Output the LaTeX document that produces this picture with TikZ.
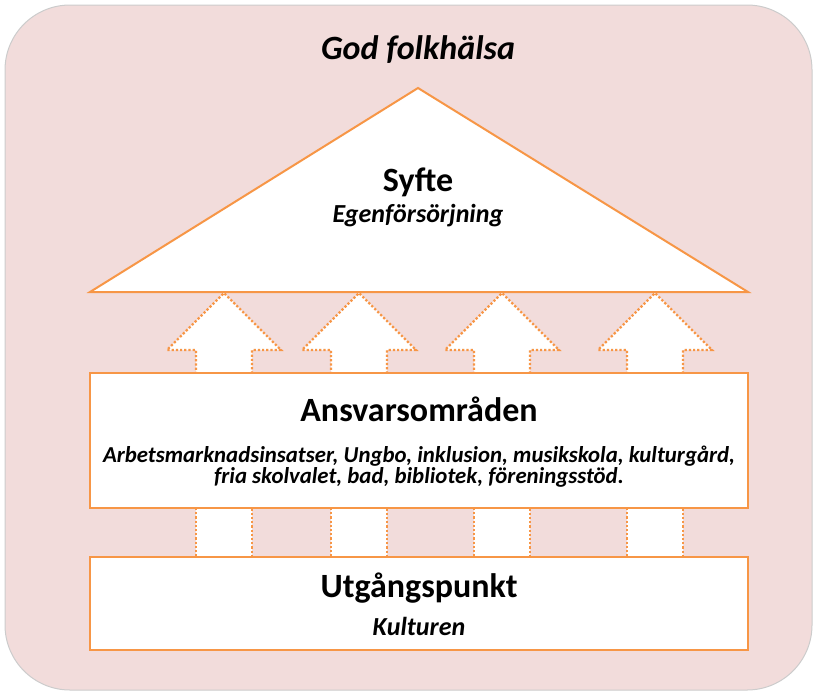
\documentclass[tikz,border=0pt]{standalone}
\usepackage{fontspec}
\setmainfont{Carlito}
\definecolor{bgpink}{RGB}{242,220,219}
\definecolor{org}{RGB}{247,150,70}
\begin{document}
\begin{tikzpicture}[x=1pt,y=-1pt,
  box/.style={draw=org,line width=2pt,fill=white},
  arr/.style={draw=org,line width=2.2pt,dotted,fill=white}]
\useasboundingbox (0,0) rectangle (818,696);
\draw[fill=bgpink,draw=gray!40,line width=1pt,rounded corners=65pt] (5,5) rectangle (812,690);
\node (title) at (418,50) {\fontsize{34}{38}\selectfont\bfseries\itshape God folkhälsa};
% upper arrows
\foreach \c/\n in {224/a1,359/a2,502/a3,655/a4}{
  \draw[arr] (\c-28,374) -- (\c-28,350) -- (\c-57,350) -- (\c,293) -- (\c+57,350) -- (\c+28,350) -- (\c+28,374);
  \draw[arr] (\c-28,508) rectangle (\c+28,557);
}
\draw[box] (90,292) -- (418,88) -- (748,292) -- cycle;
\node (syfte) at (418,182) {\fontsize{34}{38}\selectfont\bfseries Syfte};
\node (egen) at (418,216) {\fontsize{26}{30}\selectfont\bfseries\itshape Egenförsörjning};
\draw[box] (90,373) rectangle (748,508);
\node (ansv) at (419,409) {\fontsize{34}{38}\selectfont\bfseries Ansvarsområden};
\node[align=center] (list) at (419,467) {\fontsize{22.8}{28}\selectfont\bfseries\itshape Arbetsmarknadsinsatser, Ungbo, inklusion, musikskola, kulturgård,\\ \fontsize{22.8}{28}\selectfont\bfseries\itshape fria skolvalet, bad, bibliotek, föreningsstöd.};
\draw[box] (90,557) rectangle (748,650);
\node (utg) at (419,588) {\fontsize{34}{38}\selectfont\bfseries Utgångspunkt};
\node (kult) at (419,626) {\fontsize{26}{30}\selectfont\bfseries\itshape Kulturen};
\end{tikzpicture}
\end{document}
